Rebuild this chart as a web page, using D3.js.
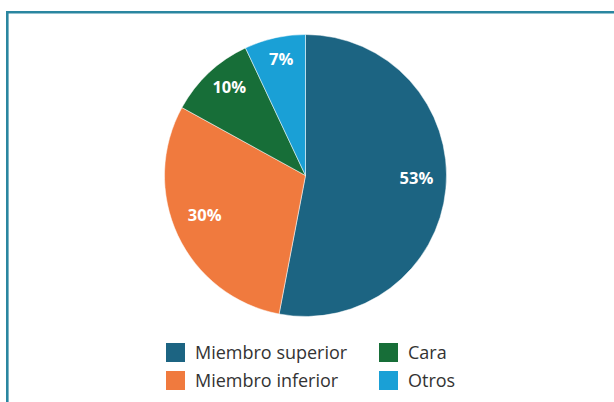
<!DOCTYPE html>
<html>
<head>
<meta charset="utf-8">
<script src="https://cdn.jsdelivr.net/npm/d3@7"></script>
<style>
  body { margin: 0; background: #fff; }
  svg { display: block; }
</style>
</head>
<body>
<div id="chart"></div>
<script>
// data
const categories = ["Miembro superior", "Miembro inferior", "Cara", "Otros"];
const values = [53, 30, 10, 7];
const colors = ["#1c6482", "#f07a3e", "#176e38", "#1aa0d6"];

const width = 614, height = 402;

const svg = d3
  .select("#chart")
  .append("svg")
  .attr("width", width)
  .attr("height", height);

// frame lines (top and left)
svg.append("line")
  .attr("x1", 6).attr("y1", 12.3).attr("x2", width).attr("y2", 12.3)
  .attr("stroke", "#2a86a0").attr("stroke-width", 2.6);
svg.append("line")
  .attr("x1", 7.3).attr("y1", 11).attr("x2", 7.3).attr("y2", height)
  .attr("stroke", "#2a86a0").attr("stroke-width", 2.6);

// pie
const cx = 305.5, cy = 175.5, r = 141;
const pie = d3.pie().sort(null).value((d) => d.value);
const arc = d3.arc().innerRadius(0).outerRadius(r);
const labelArc = d3.arc().innerRadius(r * 0.79).outerRadius(r * 0.79);

const data = categories.map((c, i) => ({ name: c, value: values[i], color: colors[i] }));
const arcs = pie(data);

const g = svg.append("g").attr("transform", `translate(${cx},${cy})`);

g.selectAll("path")
  .data(arcs)
  .enter()
  .append("path")
  .attr("d", arc)
  .attr("fill", (d) => d.data.color)
  .attr("stroke", "#fff")
  .attr("stroke-width", 0.5);

g.selectAll("text")
  .data(arcs)
  .enter()
  .append("text")
  .attr("transform", (d) => `translate(${labelArc.centroid(d)})`)
  .attr("text-anchor", "middle")
  .attr("dy", "-0.1em")
  .style("font-family", "'Open Sans', sans-serif")
  .style("font-weight", "bold")
  .style("font-size", "16.5px")
  .style("fill", "#fff")
  .text((d) => `${d.data.value}%`);

// legend
const legend = svg.append("g").attr("transform", "translate(166,343)");
const items = legend
  .selectAll("g")
  .data(data)
  .enter()
  .append("g")
  .attr("transform", (d, i) => `translate(${Math.floor(i / 2) * 213},${(i % 2) * 28})`);

items.append("rect")
  .attr("width", 19)
  .attr("height", 19)
  .attr("fill", (d) => d.color);

items.append("text")
  .attr("x", 29)
  .attr("y", 15.5)
  .style("font-family", "'Open Sans', sans-serif")
  .style("font-size", "18px")
  .style("fill", "#333")
  .text((d) => d.name);
</script>
</body>
</html>
